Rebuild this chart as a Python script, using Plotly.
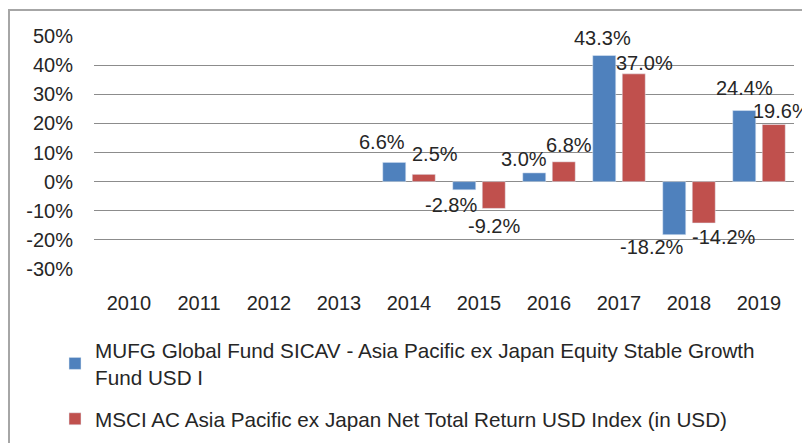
import plotly.graph_objects as go

years = ["2010", "2011", "2012", "2013", "2014", "2015", "2016", "2017", "2018", "2019"]
fund = [None, None, None, None, 6.6, -2.8, 3.0, 43.3, -18.2, 24.4]
index = [None, None, None, None, 2.5, -9.2, 6.8, 37.0, -14.2, 19.6]
fund_name = "MUFG Global Fund SICAV - Asia Pacific ex Japan Equity Stable Growth<br>Fund USD I"
index_name = "MSCI AC Asia Pacific ex Japan Net Total Return USD Index (in USD)"
yticks = [-30, -20, -10, 0, 10, 20, 30, 40, 50]

# label nudges (px) relative to the bar end, mimicking the original placement
fund_label_dx = [0, 0, 0, 0, -12, -13, -10, -2, -22, 0]
fund_label_dy = [0, 0, 0, 0, 20, 15, 14, 18, 12, 23]
index_label_dx = [0, 0, 0, 0, 11, 0, 5, 11, 20, 8]
index_label_dy = [0, 0, 0, 0, 20, 18, 17, 11, 14, 14]

FONT = "Liberation Sans, Arial, sans-serif"
FS = 20
TXT = "#262626"
BAR_OFF = 14.75  # half distance between the two bar centres, px

fig = go.Figure()
fig.add_bar(x=years, y=fund, name=fund_name, marker_color="#4F81BD", legendgroup="a")
fig.add_bar(x=years, y=index, name=index_name, marker_color="#C0504D", legendgroup="b")

for vals, dxs, dys, off in [(fund, fund_label_dx, fund_label_dy, -BAR_OFF),
                            (index, index_label_dx, index_label_dy, BAR_OFF)]:
    for i, (v, dx, dy) in enumerate(zip(vals, dxs, dys)):
        if v is None:
            continue
        # on a category axis a numeric x is the category's position index
        fig.add_annotation(x=i, y=v, xref="x", yref="y", text=f"{v:.1f}%", showarrow=False,
                           xanchor="center", yanchor="middle",
                           xshift=off + dx, yshift=dy if v >= 0 else -dy,
                           font=dict(size=FS, color=TXT))

# the page body adds an 8px offset; positions below are in figure coordinates
W, H = 810, 443
L, R, T, B = 86, 24, 28, 182
pw = W - L - R
ph = H - T - B

fig.update_layout(
    width=W, height=H,
    margin=dict(l=L, r=R, t=T, b=B, autoexpand=False),
    paper_bgcolor="white", plot_bgcolor="white",
    font=dict(family=FONT, size=FS, color=TXT),
    barmode="group", bargap=0.157, bargroupgap=0.22,
    showlegend=True,
    legend=dict(x=(47 - L) / pw, y=(H - B - 322) / ph,
                xanchor="left", yanchor="top", font=dict(size=20.7, color=TXT),
                tracegroupgap=12, bgcolor="rgba(0,0,0,0)"),
)
fig.update_xaxes(type="category", categoryorder="array", categoryarray=years,
                 range=[-0.5, len(years) - 0.5],
                 showgrid=False, showline=False, ticks="", ticklabelstandoff=20,
                 tickfont=dict(size=FS))
fig.update_yaxes(range=[-30, 50], tickvals=yticks, ticktext=[f"{v}%" for v in yticks],
                 showgrid=True, gridcolor="#8C8C8C", gridwidth=1,
                 zeroline=True, zerolinecolor="#8C8C8C", zerolinewidth=1,
                 showline=False, ticks="", ticklabelstandoff=20, tickfont=dict(size=FS))

fig.add_shape(type="rect", xref="paper", yref="paper",
              x0=(1 - L) / pw, x1=1.3, y0=-1.0, y1=(H - B - 2) / ph,
              line=dict(color="#A6A6A6", width=2), layer="below")

fig.write_html("out.html")
